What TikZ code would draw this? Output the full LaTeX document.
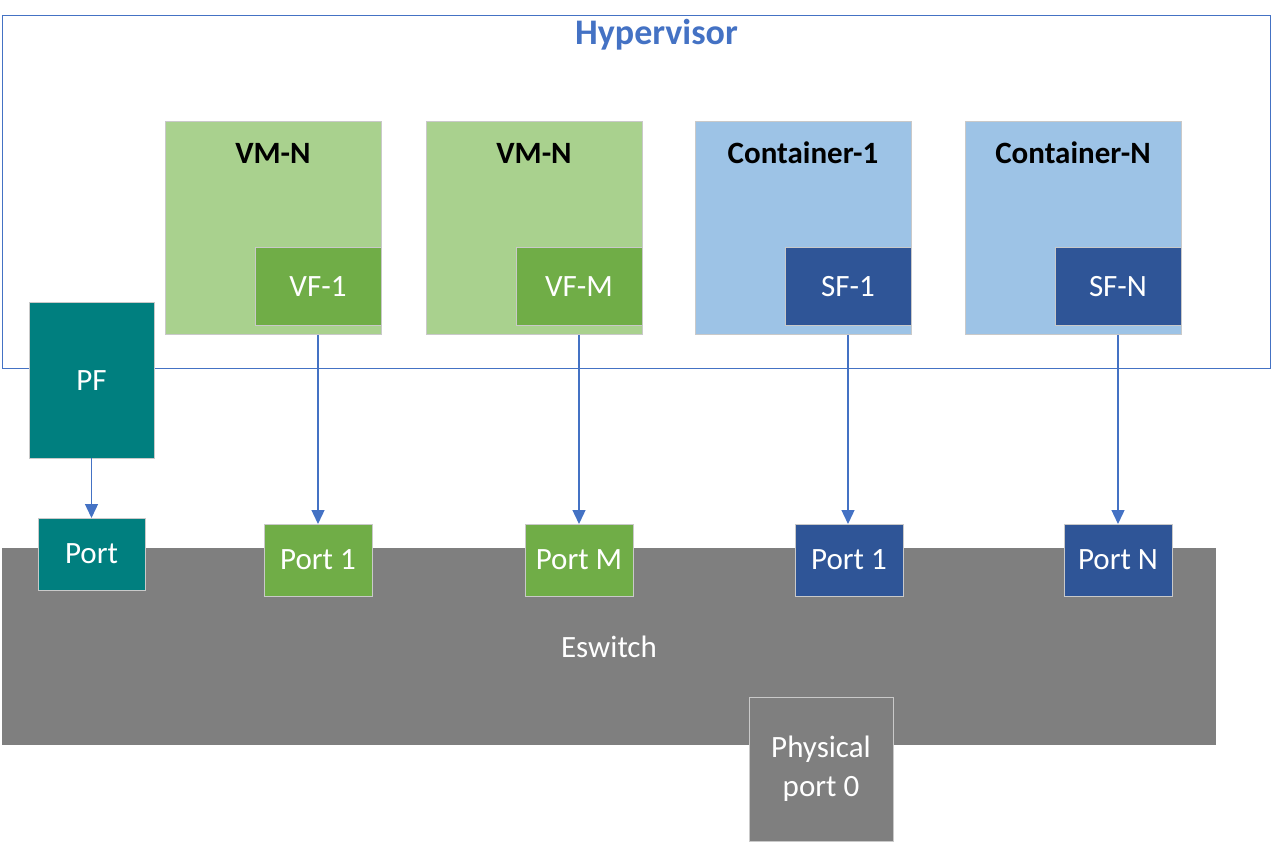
\documentclass[tikz,border=0pt]{standalone}
\usepackage{fontspec}
\setmainfont{Carlito}
\usetikzlibrary{arrows.meta, positioning}

\definecolor{hvblue}{HTML}{4472C4}
\definecolor{vmgreen}{HTML}{A9D18E}
\definecolor{vfgreen}{HTML}{70AD47}
\definecolor{ctblue}{HTML}{9DC3E6}
\definecolor{sfblue}{HTML}{2F5597}
\definecolor{pfteal}{HTML}{007F7F}
\definecolor{swgray}{HTML}{7F7F7F}
\definecolor{boxline}{HTML}{C9C9C9}

\tikzset{
  txt/.style={font=\fontsize{31}{39}\selectfont, inner sep=0pt},
  box/.style={txt, draw=boxline, line width=1pt, outer sep=0pt, anchor=north west, text=white, align=center},
  vmbox/.style={box, fill=vmgreen, minimum width=216pt, minimum height=213pt},
  ctbox/.style={box, fill=ctblue, minimum width=216pt, minimum height=213pt},
  fnbox/.style={box, minimum width=126pt, minimum height=78pt},
  portbox/.style={box, minimum width=108pt, minimum height=72pt},
  title/.style={txt, font=\fontsize{31}{39}\selectfont\bfseries},
  link/.style={draw=hvblue, line width=1.4pt, -{Triangle[length=14pt,width=13pt]}}
}

\begin{document}
\begin{tikzpicture}[x=1pt, y=-1pt]
\useasboundingbox (0,0) rectangle (1272,842);
\node [draw=hvblue, line width=1pt, minimum width=1268pt, minimum height=353pt, anchor=north west, inner sep=0pt] (hv) at (2,15) {};
\node [title, text=hvblue, font=\fontsize{36}{42}\selectfont\bfseries] (hvt) at ([xshift=20pt, yshift=-20pt]hv.north) {Hypervisor};
\node [box, fill=swgray, minimum width=1214pt, minimum height=197pt, draw=none] (esw) at (2,548) {Eswitch};
% guests
\node [vmbox] (vm1) at (165,122) {};
\node [title] (vm1t) at ([yshift=-31pt]vm1.north) {VM-N};
\node [fnbox, fill=vfgreen] (vf1) at (255,248) {VF-1};
\node [vmbox] (vm2) at (426,122) {};
\node [title] (vm2t) at ([yshift=-31pt]vm2.north) {VM-N};
\node [fnbox, fill=vfgreen] (vfm) at (516,248) {VF-M};
\node [ctbox] (ct1) at (695,122) {};
\node [title] (ct1t) at ([yshift=-31pt]ct1.north) {Container-1};
\node [fnbox, fill=sfblue] (sf1) at (785,248) {SF-1};
\node [ctbox] (ctn) at (965,122) {};
\node [title] (ctnt) at ([yshift=-31pt]ctn.north) {Container-N};
\node [fnbox, fill=sfblue] (sfn) at (1055,248) {SF-N};
\node [box, fill=pfteal, minimum width=125pt, minimum height=155pt] (pf) at (29,303) {PF};
% eswitch ports
\node [box, fill=pfteal, minimum width=107pt, minimum height=72pt] (pfport) at (38,518) {Port};
\node [portbox, fill=vfgreen] (port1) at (264,524) {Port 1};
\node [portbox, fill=vfgreen] (portm) at (525,524) {Port M};
\node [portbox, fill=sfblue] (sport1) at (795,524) {Port 1};
\node [portbox, fill=sfblue] (sportn) at (1064,524) {Port N};
\node [box, fill=swgray, minimum width=144pt, minimum height=144pt] (phy) at (749,697) {Physical\\port 0};
\draw[link] (pf) -- (pf |- pfport.north);
\draw[link] (vf1 |- vm1.south) -- (vf1 |- port1.north);
\draw[link] (vfm |- vm2.south) -- (vfm |- portm.north);
\draw[link] (sf1 |- ct1.south) -- (sf1 |- sport1.north);
\draw[link] (sfn |- ctn.south) -- (sfn |- sportn.north);
\end{tikzpicture}
\end{document}
